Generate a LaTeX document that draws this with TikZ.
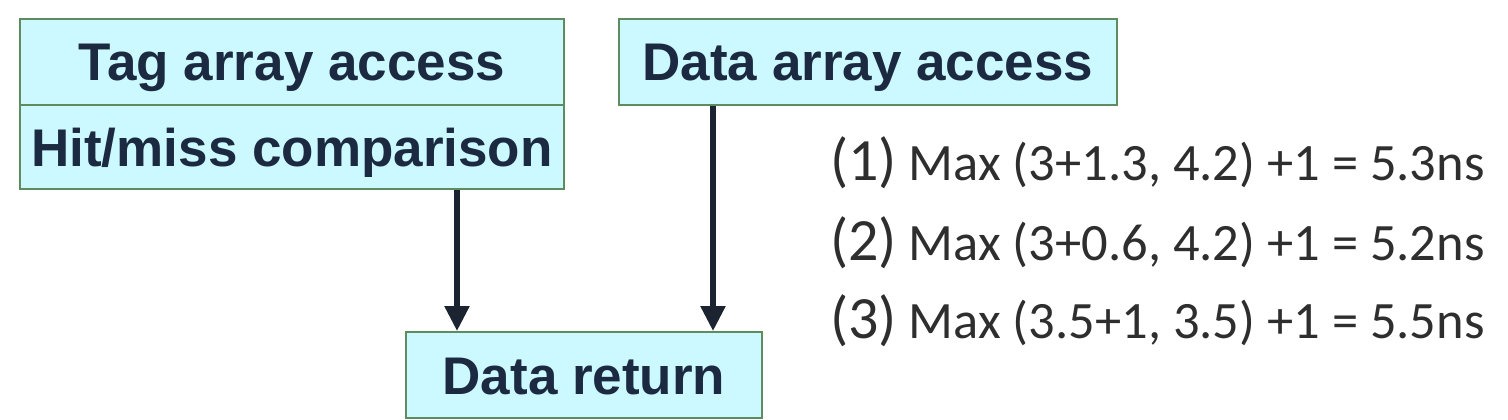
\documentclass[tikz,border=0pt]{standalone}
\usepackage{fontspec}
\setmainfont{Liberation Sans}
\newfontfamily\calib{Carlito}
\usetikzlibrary{arrows.meta}
\definecolor{boxfill}{HTML}{CCF9FF}
\definecolor{boxline}{HTML}{5E8C5E}
\definecolor{boxtext}{HTML}{1B2A40}
\definecolor{arrowcol}{HTML}{1B2430}
\definecolor{eqtext}{HTML}{2E2E2E}
\tikzset{
  stagebox/.style={draw=boxline, line width=2pt, fill=boxfill, inner sep=0pt,
    text=boxtext, font=\fontsize{53}{60}\selectfont\bfseries,
    text height=38pt, text depth=0pt},
  flowarrow/.style={draw=arrowcol, line width=5.5pt,
    -{Triangle[width=24pt,length=25pt]}},
  eqline/.style={anchor=base west, inner sep=0pt, text=eqtext,
    font=\calib\fontsize{52.5}{60}\selectfont},
}
\newcommand{\bignum}[1]{{\fontsize{60}{60}\selectfont(#1)}}
\begin{document}
\begin{tikzpicture}[x=1pt,y=-1pt]
\useasboundingbox (0,0) rectangle (1508,420);
\node[stagebox, minimum width=544pt, minimum height=86pt] (tag) at (292,62) {Tag array access};
\node[stagebox, minimum width=544pt, minimum height=84pt] (hit) at (292,147) {Hit/miss comparison};
\node[stagebox, minimum width=498pt, minimum height=86pt] (darr) at (868,62) {Data array access};
\node[stagebox, minimum width=356pt, minimum height=86pt] (ret) at (584,375) {Data return};
\coordinate (a1) at (457,0);
\coordinate (a2) at (713,0);
\draw[flowarrow] (hit.south -| a1) -- (ret.north -| a1);
\draw[flowarrow] (darr.south -| a2) -- (ret.north -| a2);
\node[eqline] (e1) at (830,180) {\bignum{1} Max (3+1.3, 4.2) +1 = 5.3ns};
\node[eqline] (e2) at (830,260) {\bignum{2} Max (3+0.6, 4.2) +1 = 5.2ns};
\node[eqline] (e3) at (830,338) {\bignum{3} Max (3.5+1, 3.5) +1 = 5.5ns};
\end{tikzpicture}
\end{document}
